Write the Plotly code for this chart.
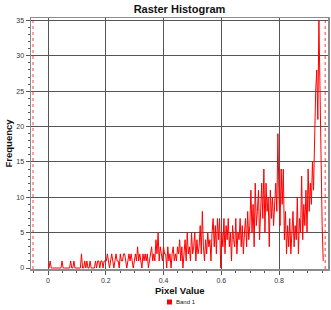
import plotly.graph_objects as go

# ---- data ----
bin_start = 0.0
bin_width = 0.003738
counts = [
    # 0.00 - 0.20
    0, 0, 1, 0, 0, 0, 0, 0, 0, 0, 0, 0, 0, 1, 0, 0, 0, 0, 0, 0,
    0, 1, 0, 0, 1, 0, 0, 0, 0, 0, 0, 2, 0, 0, 1, 0, 1, 0, 0, 1,
    0, 0, 0, 0, 1, 0, 1, 1, 0, 1, 1, 0, 1, 1,
    # 0.20 - 0.40
    1, 2, 1, 0, 1, 2, 1, 0, 1, 2, 1, 1, 0, 2, 1, 1, 2, 2, 1, 0,
    1, 2, 1, 2, 1, 0, 1, 2, 1, 3, 1, 2, 1, 0, 2, 1, 2, 1, 2, 0,
    1, 2, 3, 1, 2, 1, 4, 2, 5, 1, 3, 2, 1, 3, 2,
    # 0.40 - 0.60
    2, 0, 3, 1, 2, 0, 2, 3, 1, 2, 1, 3, 2, 4, 1, 3, 0, 2, 4, 1,
    5, 2, 3, 1, 5, 2, 3, 5, 1, 4, 2, 3, 6, 2, 8, 3, 1, 4, 2, 5,
    3, 4, 1, 5, 7, 3, 6, 2, 7, 4, 7,
    # 0.60 - 0.79
    0, 5, 3, 7, 2, 6, 4, 7, 3, 5, 1, 6, 4, 3, 7, 2, 5, 4, 7, 3,
    6, 2, 5, 7, 3, 8, 4, 6, 11, 5, 9, 3, 12, 6, 8, 11, 4, 9, 12, 7,
    14, 5, 12, 8, 10, 3, 11, 7, 10, 6, 9,
    # 0.79 - 0.96
    12, 8, 19, 10, 6, 14, 9, 14, 4, 8, 2, 6, 3, 7, 2, 5, 8, 3, 6, 4,
    10, 2, 7, 5, 13, 4, 9, 6, 11, 5, 14, 8, 12, 9, 15, 11, 20, 25, 28, 21,
    35, 23, 10, 6, 1,
]
series_name = "Band 1"
x_tick_values = [0, 0.2, 0.4, 0.6, 0.8]
x_tick_labels = ["0", "0.2", "0.4", "0.6", "0.8"]
y_tick_values = [0, 5, 10, 15, 20, 25, 30, 35]
y_tick_labels = ["0", "5", "10", "15", "20", "25", "30", "35"]
stretch_min = -0.052
stretch_max = 0.960

pixel_values = [bin_start + i * bin_width for i in range(len(counts))]

FONT = "Liberation Sans, Arial, sans-serif"
RED = "#ff0000"

fig = go.Figure()
fig.add_trace(go.Scatter(
    x=pixel_values, y=counts, mode="lines", name=series_name,
    line=dict(color=RED, width=1),
    showlegend=False, hoverinfo="skip",
))

for xv in (stretch_min, stretch_max):
    fig.add_shape(type="line", xref="x", yref="paper", x0=xv, x1=xv, y0=0, y1=1,
                  line=dict(color="rgba(255,0,0,0.75)", width=1, dash="dot"))

# legend swatch + label (bottom centre)
PLOT_W = 331 - 31 - 3
PLOT_H = 310 - 18 - 41
def px_x(p):
    return (p - 31) / PLOT_W
def px_y(p):
    return (310 - 41 - p) / PLOT_H

fig.add_shape(type="rect", xref="paper", yref="paper",
              x0=px_x(167), x1=px_x(172), y0=px_y(304.5), y1=px_y(299.5),
              fillcolor=RED, line=dict(width=0))

axis_common = dict(
    showline=True, mirror=True, linecolor="#8c8c8c", linewidth=1.5,
    showgrid=True, gridcolor="#555555", gridwidth=1,
    zeroline=False, automargin=False,
    ticks="outside", ticklen=4, tickcolor="#555", tickwidth=1,
    tickfont=dict(family=FONT, size=7, color="#333"),
)

fig.update_xaxes(
    range=[-0.0589, 0.9697], tickvals=x_tick_values, ticktext=x_tick_labels,
    minor=dict(dtick=0.05, tick0=0, ticks="outside", ticklen=2, tickcolor="#555", showgrid=False),
    **axis_common,
)
fig.update_yaxes(
    range=[-0.14, 35.35], tickvals=y_tick_values, ticktext=y_tick_labels,
    minor=dict(dtick=1, tick0=0, ticks="outside", ticklen=2, tickcolor="#555", showgrid=False),
    **axis_common,
)

fig.update_layout(
    width=331, height=310,
    margin=dict(l=31, r=3, t=18, b=41),
    paper_bgcolor="white", plot_bgcolor="white",
    title=dict(text="<b>Raster Histogram</b>", x=0.5, xref="paper", xanchor="center",
               y=1 - 9 / 310, yref="container", yanchor="middle",
               font=dict(family=FONT, size=11, color="#111")),
    showlegend=False,
    annotations=[
        dict(text="<b>Pixel Value</b>", xref="paper", yref="paper", x=0.5, y=px_y(290),
             xanchor="center", yanchor="middle", showarrow=False,
             font=dict(family=FONT, size=9.5, color="#111")),
        dict(text="<b>Frequency</b>", xref="paper", yref="paper", x=px_x(8), y=0.5,
             xanchor="center", yanchor="middle", showarrow=False, textangle=-90,
             font=dict(family=FONT, size=9.5, color="#111")),
        dict(text=series_name, xref="paper", yref="paper", x=px_x(173.5), y=px_y(302),
             xanchor="left", yanchor="middle", showarrow=False,
             font=dict(family=FONT, size=6, color="#222")),
    ],
)

fig.write_html(
    "out.html",
    config={"displayModeBar": False, "staticPlot": True},
    post_script="document.body.style.margin='0';document.body.style.overflow='hidden';",
)
